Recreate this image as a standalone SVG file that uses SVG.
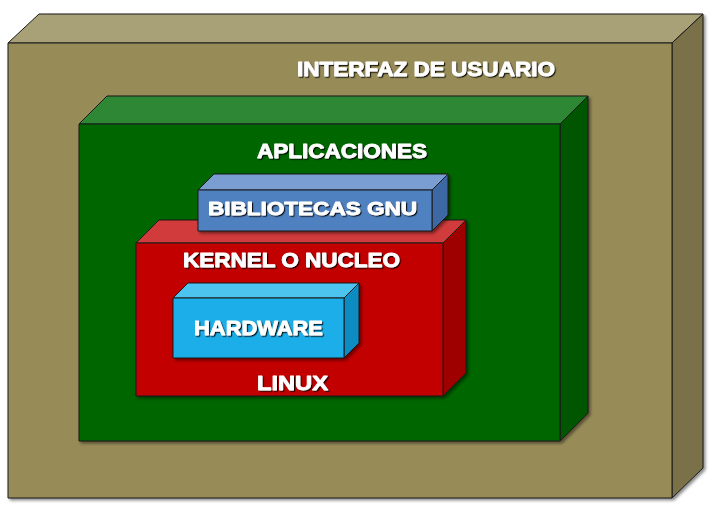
<svg xmlns="http://www.w3.org/2000/svg" width="714" height="512" viewBox="0 0 714 512">
<defs>
<filter id="boxShadow" x="-5%" y="-5%" width="115%" height="115%">
<feDropShadow dx="2" dy="2" stdDeviation="1.5" flood-color="#000" flood-opacity="0.45"/>
</filter>
<filter id="txtShadow" x="-5%" y="-20%" width="110%" height="150%">
<feDropShadow dx="1.2" dy="1.2" stdDeviation="0.6" flood-color="#000" flood-opacity="0.85"/>
</filter>
</defs>
<style>
.edge{stroke:#1a1a1a;stroke-width:1;stroke-linejoin:round}
.lbl{font-family:"Liberation Sans",Arial,sans-serif;font-weight:bold;font-size:19.5px;fill:#ffffff;stroke:#ffffff;stroke-width:0.8;stroke-linejoin:round;filter:url(#txtShadow)}
</style>
<rect width="714" height="512" fill="#ffffff"/>
<g id="interfaz" filter="url(#boxShadow)">
<polygon class="edge" points="8,43 39,14 703,14 672,43" fill="#A8A077"/>
<polygon class="edge" points="672,43 703,14 703,468 672,498" fill="#7A7148"/>
<rect class="edge" x="8" y="43" width="664" height="455" fill="#978B58"/>
</g>
<g id="aplicaciones" filter="url(#boxShadow)">
<polygon class="edge" points="79,124 107,96 588,96 560,124" fill="#2F8734"/>
<polygon class="edge" points="560,124 588,96 588,413 560,441" fill="#005400"/>
<rect class="edge" x="79" y="124" width="481" height="317" fill="#006600"/>
</g>
<g id="kernel" filter="url(#boxShadow)">
<polygon class="edge" points="136,243 159,220 466,220 443,243" fill="#D13A3A"/>
<polygon class="edge" points="443,243 466,220 466,373 443,396" fill="#9E0000"/>
<rect class="edge" x="136" y="243" width="307" height="153" fill="#C20000"/>
</g>
<g id="bibliotecas" filter="url(#boxShadow)">
<polygon class="edge" points="198,190 214,174 448,174 432,190" fill="#7A9ED2"/>
<polygon class="edge" points="432,190 448,174 448,215 432,231" fill="#3D68A3"/>
<rect class="edge" x="198" y="190" width="234" height="41" fill="#5081C0"/>
</g>
<g id="hardware" filter="url(#boxShadow)">
<polygon class="edge" points="173,298 188,283 359,283 344,298" fill="#4EC3EF"/>
<polygon class="edge" points="344,298 359,283 359,343 344,358" fill="#0E8CC3"/>
<rect class="edge" x="173" y="298" width="171" height="60" fill="#1BAEE9"/>
</g>
<g id="labels">
<text class="lbl" x="297" y="76" textLength="258" lengthAdjust="spacingAndGlyphs">INTERFAZ DE USUARIO</text>
<text class="lbl" x="257" y="158" textLength="170" lengthAdjust="spacingAndGlyphs">APLICACIONES</text>
<text class="lbl" x="208" y="215" style="font-size:18.6px" textLength="209" lengthAdjust="spacingAndGlyphs">BIBLIOTECAS GNU</text>
<text class="lbl" x="183" y="267" textLength="217" lengthAdjust="spacingAndGlyphs">KERNEL O NUCLEO</text>
<text class="lbl" x="194" y="335" textLength="129" lengthAdjust="spacingAndGlyphs">HARDWARE</text>
<text class="lbl" x="257" y="390" style="font-size:20px" textLength="71" lengthAdjust="spacingAndGlyphs">LINUX</text>
</g>
<g id="connectors"/>
</svg>
